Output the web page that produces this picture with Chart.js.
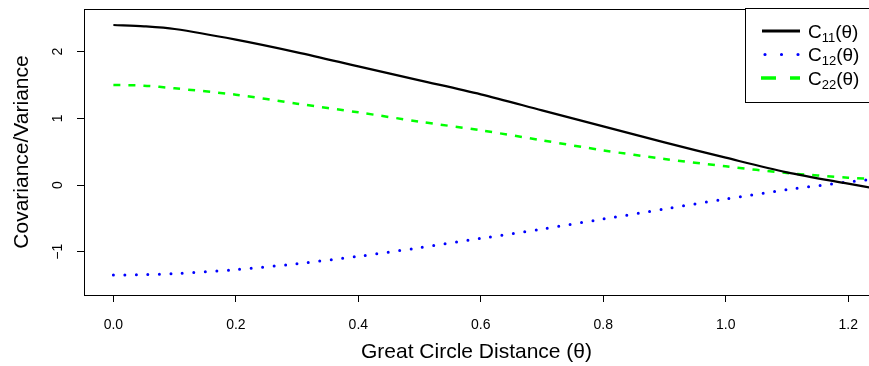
<!DOCTYPE html>
<html>
<head>
<meta charset="utf-8">
<script src="https://cdn.jsdelivr.net/npm/chart.js@4"></script>
<style>
  html, body { margin: 0; padding: 0; background: #fff; }
  canvas { display: block; }
</style>
</head>
<body>
<canvas id="c" width="869" height="366"></canvas>
<script>
// ---- data ----
const theta = [0, 0.05, 0.1, 0.2, 0.3, 0.4, 0.5, 0.6, 0.7, 0.8, 0.9, 1.0, 1.1, 1.2, 1.25];
const c11 = [2.40, 2.38, 2.34, 2.18, 1.99, 1.78, 1.57, 1.36, 1.12, 0.88, 0.64, 0.41, 0.19, 0.02, -0.06];
const c12 = [-1.35, -1.345, -1.33, -1.27, -1.18, -1.07, -0.94, -0.80, -0.66, -0.51, -0.36, -0.21, -0.07, 0.045, 0.10];
const c22 = [1.50, 1.49, 1.45, 1.355, 1.22, 1.09, 0.95, 0.82, 0.67, 0.52, 0.39, 0.28, 0.18, 0.11, 0.085];
const seriesLabels = ['C\u2081\u2081(\u03b8)', 'C\u2081\u2082(\u03b8)', 'C\u2082\u2082(\u03b8)'];
const xTicks = [0, 0.2, 0.4, 0.6, 0.8, 1.0, 1.2];
const yTicks = [-1, 0, 1, 2];
const xTitle = 'Great Circle Distance (\u03b8)';
const yTitle = 'Covariance/Variance';

const pts = arr => theta.map((t, i) => ({ x: t, y: arr[i] }));
const FONT = "'Liberation Sans', Arial, Helvetica, sans-serif";
const SUBS = { '\u2080': '0', '\u2081': '1', '\u2082': '2', '\u2083': '3' };

const frame = {
  id: 'frame',
  afterDatasetsDraw(chart) {
    const { ctx, chartArea: a } = chart;
    ctx.save();
    ctx.strokeStyle = '#000';
    ctx.lineWidth = 1;
    ctx.beginPath();
    ctx.moveTo(a.left, Math.round(a.top) + 0.5);
    ctx.lineTo(a.right + 5, Math.round(a.top) + 0.5);
    ctx.stroke();
    ctx.restore();
  }
};

// label drawn with real subscripts: "C" + small lowered digits + "(θ)"
function drawSubLabel(ctx, label, x, y) {
  const m = label.match(/^(\D+?)([\u2080-\u2089]+)(.*)$/);
  ctx.textBaseline = 'alphabetic';
  ctx.textAlign = 'left';
  const base = y + 6.5;
  if (!m) { ctx.font = '19px ' + FONT; ctx.fillText(label, x, base); return; }
  ctx.font = '19px ' + FONT;
  ctx.fillText(m[1], x, base);
  x += ctx.measureText(m[1]).width;
  const sub = m[2].split('').map(c => SUBS[c] || c).join('');
  ctx.font = '13px ' + FONT;
  ctx.fillText(sub, x, base + 4);
  x += ctx.measureText(sub).width;
  ctx.font = '19px ' + FONT;
  ctx.fillText(m[3], x, base);
}

const boxLegend = {
  id: 'boxLegend',
  afterDraw(chart) {
    const { ctx } = chart;
    const x0 = 745, y0 = 8, h = 94;
    ctx.save();
    ctx.fillStyle = '#fff';
    ctx.fillRect(x0, y0, 200, h);
    ctx.strokeStyle = '#000';
    ctx.lineWidth = 1;
    ctx.strokeRect(x0 + 0.5, y0 + 0.5, 200, h);
    const rowY = [31, 54.5, 78];
    chart.data.datasets.forEach((ds, i) => {
      const y = rowY[i];
      const lg = ds.legendStyle;
      ctx.save();
      ctx.strokeStyle = ds.borderColor;
      ctx.lineWidth = lg.width;
      ctx.lineCap = lg.cap;
      ctx.setLineDash(lg.dash);
      ctx.beginPath();
      ctx.moveTo(lg.start, y);
      ctx.lineTo(800, y);
      ctx.stroke();
      ctx.restore();
      ctx.fillStyle = '#000';
      drawSubLabel(ctx, ds.label, 808, y);
    });
    ctx.restore();
  }
};

new Chart(document.getElementById('c'), {
  type: 'line',
  data: {
    datasets: [
      { label: seriesLabels[0], data: pts(c11), borderColor: '#000000', borderWidth: 2.2,
        pointRadius: 0, tension: 0.3, fill: false,
        legendStyle: { width: 3.2, dash: [], cap: 'butt', start: 762 } },
      { label: seriesLabels[1], data: pts(c12), borderColor: '#0000ff', borderWidth: 3,
        borderDash: [0, 11.5], borderCapStyle: 'round', pointRadius: 0, tension: 0.3, fill: false,
        legendStyle: { width: 3.2, dash: [0, 16.5], cap: 'round', start: 765 } },
      { label: seriesLabels[2], data: pts(c22), borderColor: '#00ff00', borderWidth: 2.5,
        borderDash: [7, 8], pointRadius: 0, tension: 0.3, fill: false,
        legendStyle: { width: 3.5, dash: [15, 14], cap: 'butt', start: 761 } }
    ]
  },
  options: {
    responsive: false,
    animation: false,
    layout: { padding: { top: 9, left: 0, right: 0, bottom: 0 } },
    plugins: { legend: { display: false }, tooltip: { enabled: false } },
    scales: {
      x: {
        type: 'linear', min: -0.048, max: 1.234,
        afterBuildTicks: s => { s.ticks = xTicks.map(v => ({ value: v })); },
        afterFit: s => { s.height = 71; s.paddingLeft = 0; s.paddingRight = 0; },
        grid: { display: true, drawOnChartArea: false, drawTicks: true, tickLength: 7, color: '#000', lineWidth: 1 },
        border: { display: true, color: '#000', width: 1 },
        ticks: { color: '#000', font: { family: FONT, size: 14 }, padding: 15, maxRotation: 0,
                 callback: v => Number(v).toFixed(1) },
        title: { display: true, text: xTitle, color: '#000', font: { family: FONT, size: 21 },
                 padding: { top: 0, bottom: 1 } }
      },
      y: {
        type: 'linear', min: -1.65, max: 2.64,
        afterBuildTicks: s => { s.ticks = yTicks.map(v => ({ value: v })); },
        afterFit: s => { s.width = 84; s.paddingTop = 0; s.paddingBottom = 0; },
        grid: { display: true, drawOnChartArea: false, drawTicks: true, tickLength: 7, color: '#000', lineWidth: 1 },
        border: { display: true, color: '#000', width: 1 },
        ticks: { color: '#000', font: { family: FONT, size: 14 }, padding: 11, minRotation: 90, maxRotation: 90,
                 crossAlign: 'center', callback: v => String(v).replace('-', '\u2212') },
        title: { display: true, text: yTitle, color: '#000', font: { family: FONT, size: 21 },
                 padding: { top: 10, bottom: 0 } }
      }
    }
  },
  plugins: [frame, boxLegend]
});
</script>
</body>
</html>
